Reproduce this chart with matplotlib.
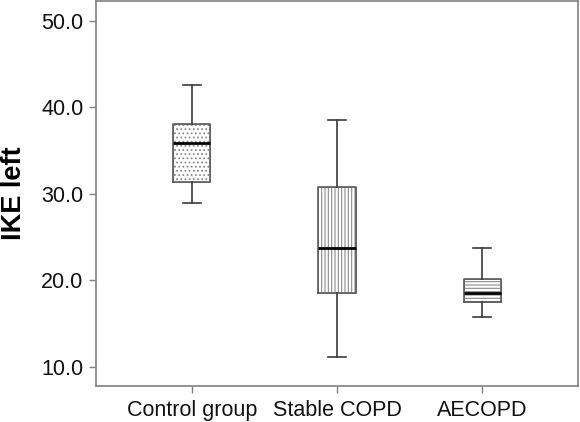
import matplotlib
matplotlib.use("Agg")
import matplotlib.pyplot as plt

plt.rcParams["font.family"] = ["Liberation Sans", "DejaVu Sans"]
plt.rcParams["hatch.linewidth"] = 0.8

# values
groups = ["Control group", "Stable COPD", "AECOPD"]
whislo = [28.9, 11.1, 15.8]
q1 = [31.4, 18.5, 17.5]
med = [35.9, 23.8, 18.6]
q3 = [38.1, 30.8, 20.2]
whishi = [42.6, 38.5, 23.8]
hatches = ["....", "|||||", "-----"]

stats = []
for i, g in enumerate(groups):
    stats.append({"label": g, "whislo": whislo[i], "q1": q1[i], "med": med[i],
                  "q3": q3[i], "whishi": whishi[i], "fliers": []})

fig = plt.figure(figsize=(5.8, 4.22), dpi=100)
ax = fig.add_axes([0.1655, 0.0853, 0.8311, 0.9123])

pos = [1, 2, 3]
w = 0.255

# hatched fill first
fill = ax.bxp(stats, positions=pos, widths=w, patch_artist=True,
              showcaps=False, boxprops=dict(facecolor="white", edgecolor="#8a8a8a", linewidth=0.6),
              whiskerprops=dict(linewidth=0), medianprops=dict(linewidth=0))
for b, h in zip(fill["boxes"], hatches):
    b.set_hatch(h)

# outlines, whiskers, medians on top
ax.bxp(stats, positions=pos, widths=w, capwidths=w / 2,
       boxprops=dict(color="#5a5a5a", linewidth=1.2),
       whiskerprops=dict(color="#3a3a3a", linewidth=1.2),
       capprops=dict(color="#3a3a3a", linewidth=1.2),
       medianprops=dict(color="black", linewidth=2.0))

ax.set_xlim(0.34, 3.66)
ax.set_ylim(7.8, 52.3)
ax.set_yticks([10, 20, 30, 40, 50])
ax.set_yticklabels(["10.0", "20.0", "30.0", "40.0", "50.0"])
ax.set_xticks(pos)
ax.set_xticklabels(groups)

for s in ax.spines.values():
    s.set_color("#808080")
    s.set_linewidth(1.2)
ax.tick_params(colors="#808080", labelcolor="#111111", labelsize=15.5, length=5, width=1.0, pad=4)
ax.tick_params(axis="x", pad=5)

ax.set_ylabel("IKE left", fontsize=19.5, fontweight="bold", labelpad=10)

fig.savefig("out.png", dpi=100)
